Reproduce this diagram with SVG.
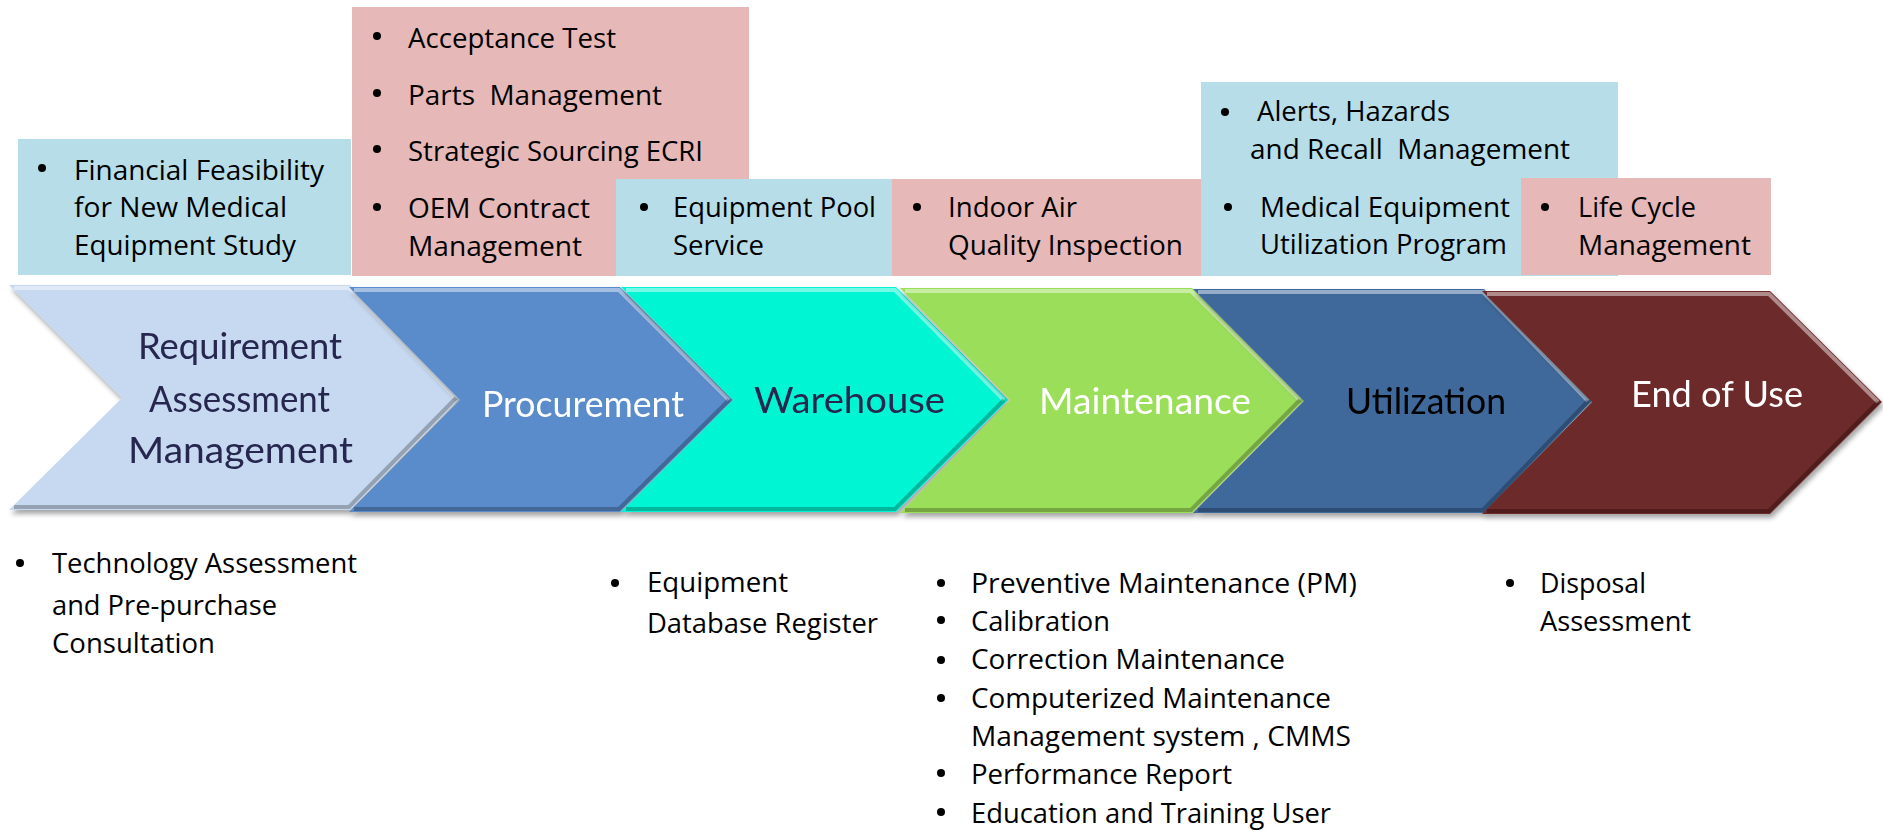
<svg xmlns="http://www.w3.org/2000/svg" width="1883" height="830" viewBox="0 0 1883 830">
<style>
.t{font-family:"Open Sans","Liberation Sans",sans-serif;font-size:28px;fill:#000}
.b{font-family:"Open Sans","Liberation Sans",sans-serif;font-size:27px;fill:#000}
.lbl{font-family:"Lato","Noto Sans",sans-serif;font-size:37px}
.blue{fill:#B7DDE8}
.pink{fill:#E6B8B7}
.hl{fill:none;stroke:#fff;stroke-opacity:.45;stroke-width:4}
.dk{fill:none;stroke:#000;stroke-opacity:.25;stroke-width:4}
.chev{filter:url(#sh)}
</style>
<defs>
<filter id="sh" x="-5%" y="-5%" width="110%" height="115%">
<feDropShadow dx="2" dy="4" stdDeviation="2.5" flood-color="#000" flood-opacity="0.35"/>
</filter>
<g id="dot"><circle r="4" fill="#000"/></g>
</defs>
<rect width="1883" height="830" fill="#fff"/>

<g id="box-feasibility">
<rect class="blue" x="18" y="139" width="333" height="136"/>
<use href="#dot" x="42" y="168"/>
<text class="t" x="74" y="180" textLength="250" lengthAdjust="spacingAndGlyphs">Financial Feasibility</text>
<text class="t" x="74" y="217" textLength="213" lengthAdjust="spacingAndGlyphs">for New Medical</text>
<text class="t" x="74" y="255" textLength="222" lengthAdjust="spacingAndGlyphs">Equipment Study</text>
</g>

<g id="box-procurement-top">
<rect class="pink" x="352" y="7" width="397" height="269"/>
<use href="#dot" x="377" y="36"/>
<use href="#dot" x="377" y="93"/>
<use href="#dot" x="377" y="149"/>
<use href="#dot" x="377" y="207"/>
<text class="t" x="408" y="48" textLength="208" lengthAdjust="spacingAndGlyphs">Acceptance Test</text>
<text class="t" x="408" y="105" textLength="254" lengthAdjust="spacingAndGlyphs" xml:space="preserve">Parts  Management</text>
<text class="t" x="408" y="161" textLength="295" lengthAdjust="spacingAndGlyphs">Strategic Sourcing ECRI</text>
<text class="t" x="408" y="218" textLength="182" lengthAdjust="spacingAndGlyphs">OEM Contract</text>
<text class="t" x="408" y="256" textLength="174" lengthAdjust="spacingAndGlyphs">Management</text>
</g>

<g id="box-pool">
<rect class="blue" x="616" y="179" width="276" height="97"/>
<use href="#dot" x="644" y="207"/>
<text class="t" x="673" y="217" textLength="203" lengthAdjust="spacingAndGlyphs">Equipment Pool</text>
<text class="t" x="673" y="255" textLength="91" lengthAdjust="spacingAndGlyphs">Service</text>
</g>

<g id="box-air">
<rect class="pink" x="892" y="179" width="310" height="97"/>
<use href="#dot" x="917" y="207"/>
<text class="t" x="948" y="217" textLength="129" lengthAdjust="spacingAndGlyphs">Indoor Air</text>
<text class="t" x="948" y="255" textLength="235" lengthAdjust="spacingAndGlyphs">Quality Inspection</text>
</g>

<g id="box-utilization-top">
<rect class="blue" x="1201" y="82" width="417" height="194"/>
<use href="#dot" x="1225" y="112"/>
<use href="#dot" x="1228" y="207"/>
<text class="t" x="1257" y="121" textLength="193" lengthAdjust="spacingAndGlyphs">Alerts, Hazards</text>
<text class="t" x="1250" y="159" textLength="320" lengthAdjust="spacingAndGlyphs" xml:space="preserve">and Recall  Management</text>
<text class="t" x="1260" y="217" textLength="250" lengthAdjust="spacingAndGlyphs">Medical Equipment</text>
<text class="t" x="1260" y="254" textLength="247" lengthAdjust="spacingAndGlyphs">Utilization Program</text>
</g>

<g id="box-lifecycle">
<rect class="pink" x="1521" y="178" width="250" height="97"/>
<use href="#dot" x="1545" y="207"/>
<text class="t" x="1578" y="217" textLength="118" lengthAdjust="spacingAndGlyphs">Life Cycle</text>
<text class="t" x="1578" y="255" textLength="173" lengthAdjust="spacingAndGlyphs">Management</text>
</g>

<g id="chev-requirement" class="chev">
<polygon points="9,285 350,285 460,398 350,510 9,510 122,398" fill="#C6D9F1"/>
<polyline class="hl" points="14,288 349,288 456,398"/>
<polyline class="dk" points="456,398 349,507 14,507"/>
<text class="lbl" x="138" y="359" fill="#26264F" textLength="204" lengthAdjust="spacingAndGlyphs">Requirement</text>
<text class="lbl" x="149" y="412" fill="#26264F" textLength="181" lengthAdjust="spacingAndGlyphs">Assessment</text>
<text class="lbl" x="128" y="463" fill="#26264F" textLength="225" lengthAdjust="spacingAndGlyphs">Management</text>
</g>

<g id="chev-procurement" class="chev">
<polygon points="349,287 620,287 733,400 620,512 349,512 460,400" fill="#5A8BCA"/>
<polyline class="hl" points="354,290 619,290 729,400"/>
<polyline class="dk" points="729,400 619,509 354,509"/>
<text class="lbl" x="482" y="417" fill="#fff" textLength="202" lengthAdjust="spacingAndGlyphs">Procurement</text>
</g>

<g id="chev-warehouse" class="chev">
<polygon points="621,287 896,287 1008,400 896,512 621,512 733,400" fill="#03F5D3"/>
<polyline class="hl" points="626,290 895,290 1004,400"/>
<polyline class="dk" points="1004,400 895,509 626,509"/>
<text class="lbl" x="754" y="413" fill="#26264F" textLength="191" lengthAdjust="spacingAndGlyphs">Warehouse</text>
</g>

<g id="chev-maintenance" class="chev">
<polygon points="900,288 1192,288 1304,400 1192,513 900,513 1010,400" fill="#9BDE5A"/>
<polyline class="hl" points="905,291 1191,291 1300,400"/>
<polyline class="dk" points="1300,400 1191,510 905,510"/>
<text class="lbl" x="1039" y="414" fill="#fff" textLength="212" lengthAdjust="spacingAndGlyphs">Maintenance</text>
</g>

<g id="chev-utilization" class="chev">
<polygon points="1193,289 1484,289 1592,401 1484,513 1193,513 1304,401" fill="#3F699B"/>
<polyline class="hl" points="1198,292 1483,292 1588,401"/>
<polyline class="dk" points="1588,401 1483,510 1198,510"/>
<text class="lbl" x="1346" y="414" fill="#000" textLength="160" lengthAdjust="spacingAndGlyphs">Utilization</text>
</g>

<g id="chev-enduse" class="chev">
<polygon points="1482,291 1770,291 1882,402 1770,514 1482,514 1592,402" fill="#6C2A2A"/>
<polyline class="hl" points="1487,294 1769,294 1878,402"/>
<polyline class="dk" points="1878,402 1769,511 1487,511"/>
<text class="lbl" x="1631" y="407" fill="#fff" textLength="172" lengthAdjust="spacingAndGlyphs">End of Use</text>
</g>

<g id="connectors"></g>

<g id="list-requirement">
<use href="#dot" x="20" y="563"/>
<text class="b" x="52" y="573" textLength="305" lengthAdjust="spacingAndGlyphs">Technology Assessment</text>
<text class="b" x="52" y="615" textLength="225" lengthAdjust="spacingAndGlyphs">and Pre-purchase</text>
<text class="b" x="52" y="653" textLength="163" lengthAdjust="spacingAndGlyphs">Consultation</text>
</g>

<g id="list-warehouse">
<use href="#dot" x="615" y="583"/>
<text class="b" x="647" y="592" textLength="141" lengthAdjust="spacingAndGlyphs">Equipment</text>
<text class="b" x="647" y="633" textLength="231" lengthAdjust="spacingAndGlyphs">Database Register</text>
</g>

<g id="list-maintenance">
<use href="#dot" x="941" y="583"/>
<use href="#dot" x="941" y="620"/>
<use href="#dot" x="941" y="660"/>
<use href="#dot" x="941" y="698"/>
<use href="#dot" x="941" y="773"/>
<use href="#dot" x="941" y="812"/>
<text class="b" x="971" y="593" textLength="386" lengthAdjust="spacingAndGlyphs">Preventive Maintenance (PM)</text>
<text class="b" x="971" y="631" textLength="139" lengthAdjust="spacingAndGlyphs">Calibration</text>
<text class="b" x="971" y="669" textLength="314" lengthAdjust="spacingAndGlyphs">Correction Maintenance</text>
<text class="b" x="971" y="708" textLength="360" lengthAdjust="spacingAndGlyphs">Computerized Maintenance</text>
<text class="b" x="971" y="746" textLength="380" lengthAdjust="spacingAndGlyphs">Management system , CMMS</text>
<text class="b" x="971" y="784" textLength="261" lengthAdjust="spacingAndGlyphs">Performance Report</text>
<text class="b" x="971" y="823" textLength="360" lengthAdjust="spacingAndGlyphs">Education and Training User</text>
</g>

<g id="list-enduse">
<use href="#dot" x="1510" y="583"/>
<text class="b" x="1540" y="593" textLength="106" lengthAdjust="spacingAndGlyphs">Disposal</text>
<text class="b" x="1540" y="631" textLength="151" lengthAdjust="spacingAndGlyphs">Assessment</text>
</g>
</svg>
